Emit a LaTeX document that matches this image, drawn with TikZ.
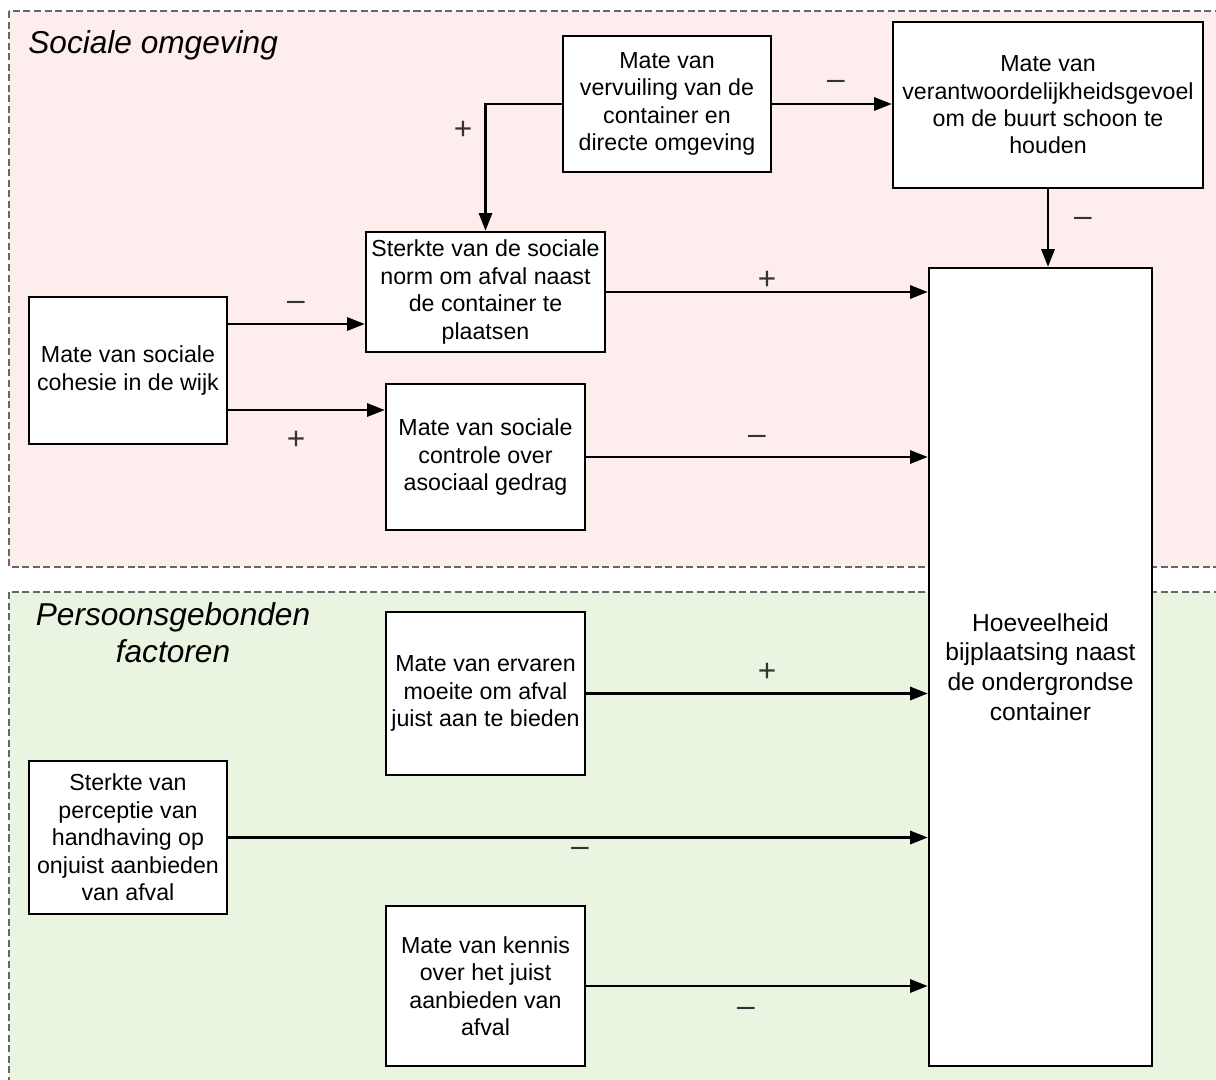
\documentclass[tikz,border=0pt]{standalone}
\usepackage{fontspec}
\setmainfont{Liberation Sans}
\usetikzlibrary{arrows.meta,positioning,calc}
\definecolor{pinkbg}{RGB}{253,238,237}
\definecolor{greenbg}{RGB}{233,245,225}

\begin{document}
\begin{tikzpicture}[x=0.02cm, y=-0.02cm,
            factor/.style={draw, line width=1.5pt, fill=white, align=center, inner sep=2pt,
                font=\fontsize{13.2}{15.6}\selectfont},
            sign/.style={font=\fontsize{18}{20}\selectfont, inner sep=0pt, text=black!80},
            region/.style={draw=black!60, dash pattern=on 4pt off 2pt, line width=0.6pt},
            heading/.style={font=\fontsize{18}{21}\selectfont\itshape, inner sep=0pt},
            link/.style={line width=1.35pt, -{Triangle[length=10pt,width=7.5pt]}}]
        \clip (0,0) rectangle (1216,1079);
        \fill[white] (0,0) rectangle (1216,1079);
        % achtergrondvlakken
        \path[region, fill=pinkbg] (9,11) rectangle (1240,567);
        \path[region, fill=greenbg] (9,592) rectangle (1240,1100);
        \node[heading, anchor=west] (sociaal) at (28,45) {Sociale omgeving};
        \node[heading, align=center] (persoon) at (173,633) {Persoonsgebonden\\factoren};
        % factoren
        \node[factor, minimum width=41.6mm, minimum height=27.2mm] (vervuiling) at (667,104)
            {Mate van\\vervuiling van de\\container en\\directe omgeving};
        \node[factor, minimum width=62mm, minimum height=33.2mm] (verantw) at (1048,105)
            {Mate van\\verantwoordelijkheidsgevoel\\om de buurt schoon te\\houden};
        \node[factor, minimum width=47.8mm, minimum height=24mm] (norm) at (485.5,292)
            {Sterkte van de sociale\\norm om afval naast\\de container te\\plaatsen};
        \node[factor, minimum width=39.6mm, minimum height=29.4mm] (cohesie) at (128,370.5)
            {Mate van sociale\\cohesie in de wijk};
        \node[factor, minimum width=39.8mm, minimum height=29.2mm] (controle) at (485.5,457)
            {Mate van sociale\\controle over\\asociaal gedrag};
        \node[factor, minimum width=44.6mm, minimum height=159.6mm,
              font=\fontsize{14}{17}\selectfont] (bijplaatsing) at (1040.5,667)
            {Hoeveelheid\\bijplaatsing naast\\de ondergrondse\\container};
        \node[factor, minimum width=39.8mm, minimum height=32.6mm] (moeite) at (485.5,693.5)
            {Mate van ervaren\\moeite om afval\\juist aan te bieden};
        \node[factor, minimum width=39.6mm, minimum height=30.6mm] (handhaving) at (128,837.5)
            {Sterkte van\\perceptie van\\handhaving op\\onjuist aanbieden\\van afval};
        \node[factor, minimum width=39.8mm, minimum height=32mm] (kennis) at (485.5,986)
            {Mate van kennis\\over het juist\\aanbieden van\\afval};
        % verbanden
        \draw[link] (vervuiling.west) -| (norm.north);
        \draw[link] (vervuiling.east) -- (vervuiling.east -| verantw.west);
        \draw[link] (verantw.south) -- (verantw.south |- bijplaatsing.north);
        \draw[link] (norm.east) -- (norm.east -| bijplaatsing.west);
        \draw[link] (cohesie.east |- 0,324) -- (norm.west |- 0,324);
        \draw[link] (cohesie.east |- 0,410) -- (controle.west |- 0,410);
        \draw[link] (controle.east) -- (controle.east -| bijplaatsing.west);
        \draw[link] (moeite.east) -- (moeite.east -| bijplaatsing.west);
        \draw[link] (handhaving.east) -- (handhaving.east -| bijplaatsing.west);
        \draw[link] (kennis.east) -- (kennis.east -| bijplaatsing.west);
        % tekens
        \node[sign] (s1) at (463,130) {+};
        \node[sign] (s2) at (836,85) {–};
        \node[sign] (s3) at (1083,222) {–};
        \node[sign] (s4) at (767,280) {+};
        \node[sign] (s5) at (296,306) {–};
        \node[sign] (s6) at (296,440) {+};
        \node[sign] (s7) at (757,440) {–};
        \node[sign] (s8) at (767,672) {+};
        \node[sign] (s9) at (580,852) {–};
        \node[sign] (s10) at (746,1012) {–};
\end{tikzpicture}
\end{document}
